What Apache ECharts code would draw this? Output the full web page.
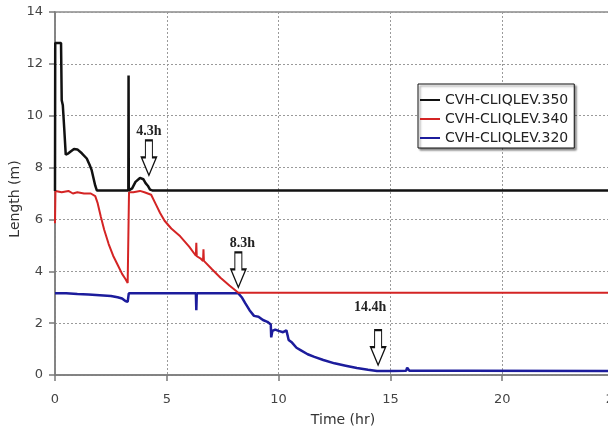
<!DOCTYPE html>
<html>
<head>
<meta charset="utf-8">
<script src="https://cdn.jsdelivr.net/npm/echarts@6/dist/echarts.min.js"></script>
<style>html,body{margin:0;padding:0;background:#fff;}#c{width:608px;height:431px;}</style>
</head>
<body>
<div id="c"></div>
<script>
// Series names
const seriesNames = ['CVH-CLIQLEV.350', 'CVH-CLIQLEV.340', 'CVH-CLIQLEV.320'];

// Black series [time(hr), length(m)]
const black350 = [[0,7.1],[0.01,12.8],[0.27,12.8],[0.3,10.6],[0.35,10.4],[0.42,9.4],[0.48,8.5],[0.6,8.55],[0.7,8.62],[0.85,8.72],[1.0,8.7],[1.2,8.55],[1.42,8.35],[1.55,8.1],[1.64,7.9],[1.72,7.6],[1.8,7.3],[1.87,7.12],[3.28,7.12],[3.29,11.55],[3.3,7.12],[3.45,7.2],[3.6,7.45],[3.8,7.6],[3.95,7.55],[4.05,7.4],[4.15,7.3],[4.25,7.15],[4.35,7.12],[25,7.12]];

// Red series
const red340 = [[0,5.85],[0.02,7.1],[0.3,7.05],[0.6,7.1],[0.8,7.0],[1.0,7.05],[1.3,7.0],[1.6,7.0],[1.8,6.9],[1.9,6.65],[2.05,6.1],[2.2,5.6],[2.4,5.05],[2.6,4.6],[2.8,4.25],[3.0,3.9],[3.15,3.7],[3.25,3.55],[3.3,3.55],[3.31,7.05],[3.5,7.05],[3.8,7.1],[4.0,7.05],[4.3,6.95],[4.5,6.6],[4.7,6.25],[4.9,5.95],[5.2,5.65],[5.6,5.35],[6.0,4.95],[6.3,4.6],[6.32,5.1],[6.34,4.58],[6.5,4.5],[6.62,4.4],[6.64,4.85],[6.66,4.4],[7.0,4.1],[7.4,3.75],[7.8,3.45],[8.2,3.17],[25,3.17]];

// Blue series
const blue320 = [[0,3.15],[0.5,3.15],[1.0,3.12],[1.5,3.1],[2.0,3.08],[2.5,3.05],[2.8,3.0],[3.0,2.95],[3.15,2.85],[3.25,2.82],[3.3,3.15],[5,3.15],[6.3,3.15],[6.32,2.5],[6.34,3.15],[8.2,3.15],[8.35,3.0],[8.5,2.78],[8.7,2.5],[8.9,2.28],[9.1,2.25],[9.3,2.12],[9.5,2.05],[9.65,1.95],[9.67,1.45],[9.72,1.7],[9.85,1.75],[10.0,1.7],[10.2,1.65],[10.35,1.72],[10.45,1.35],[10.6,1.25],[10.8,1.05],[11.0,0.95],[11.3,0.8],[11.6,0.7],[12.0,0.58],[12.5,0.45],[13.0,0.36],[13.5,0.27],[14.0,0.2],[14.4,0.15],[15.0,0.15],[15.7,0.16],[15.75,0.28],[15.85,0.16],[18.3,0.16],[18.35,0.2],[18.4,0.16],[25,0.15]];

// Annotation arrows: tip positions and labels
const arrowT = [4.2, 8.2, 14.45];
const arrowY = [7.7, 3.38, 0.38];
const arrowLabels = ['4.3h', '8.3h', '14.4h'];
const arrowLabelOffset = [[0, 2], [4, 2], [-8, -12]];

const arrowPath = 'path://M4,0 L11,0 L11,17 L15,17 L7.5,35 L0,17 L4,17 Z';

const chart = echarts.init(document.getElementById('c'));
const markData = arrowT.map((t, i) => ({
  coord: [t, arrowY[i]],
  label: { offset: arrowLabelOffset[i], formatter: arrowLabels[i] }
}));

chart.setOption({
  animation: false,
  grid: { left: 55, top: 12, right: -6, bottom: 56, containLabel: false, outerBoundsMode: 'none', show: true, borderColor: '#8a8a8a', borderWidth: 1.5, backgroundColor: 'transparent' },
  legend: {
    data: seriesNames,
    orient: 'vertical', left: 418, top: 84,
    padding: [9, 6, 3, 2], itemGap: 5, itemWidth: 20, itemHeight: 2,
    icon: 'rect',
    backgroundColor: '#fff', borderColor: '#111', borderWidth: 1,
    shadowColor: 'rgba(0,0,0,0.45)', shadowBlur: 2, shadowOffsetX: 2, shadowOffsetY: 2,
    textStyle: { fontFamily: 'DejaVu Sans', fontSize: 14, lineHeight: 14, color: '#222' }
  },
  xAxis: {
    type: 'value', min: 0, max: 25, interval: 5,
    name: 'Time (hr)', nameLocation: 'middle', nameGap: 38, nameMoveOverlap: false,
    nameTextStyle: { fontFamily: 'DejaVu Sans', fontSize: 14, color: '#333', padding: [0, 0, 0, 17] },
    axisLine: { lineStyle: { color: '#7a7a7a', width: 1.5 } },
    axisTick: { show: true, length: 6, lineStyle: { color: '#7a7a7a', width: 1.5 } },
    axisLabel: { margin: 18, fontFamily: 'DejaVu Sans', fontSize: 13, color: '#444', showMaxLabel: true },
    splitLine: { show: true, lineStyle: { type: [2, 2], color: '#9a9a9a', width: 1 } }
  },
  yAxis: {
    type: 'value', min: 0, max: 14, interval: 2,
    name: 'Length (m)', nameLocation: 'middle', nameGap: 33, nameRotate: 90, nameMoveOverlap: false,
    nameTextStyle: { fontFamily: 'DejaVu Sans', fontSize: 14, color: '#333', padding: [0, 11, 0, 0] },
    axisLine: { show: true, lineStyle: { color: '#7a7a7a', width: 1.5 } },
    axisTick: { show: true, length: 6, lineStyle: { color: '#7a7a7a', width: 1.5 } },
    axisLabel: { margin: 12, fontFamily: 'DejaVu Sans', fontSize: 13, color: '#444' },
    splitLine: { show: true, lineStyle: { type: [2, 2], color: '#9a9a9a', width: 1 } }
  },
  series: [
    {
      name: seriesNames[2], type: 'line', data: blue320, showSymbol: false, z: 2,
      lineStyle: { color: '#1c1c9c', width: 2.5 }, itemStyle: { color: '#1c1c9c' }
    },
    {
      name: seriesNames[1], type: 'line', data: red340, showSymbol: false, z: 3,
      lineStyle: { color: '#d42424', width: 2 }, itemStyle: { color: '#d42424' }
    },
    {
      name: seriesNames[0], type: 'line', data: black350, showSymbol: false, z: 4,
      lineStyle: { color: '#111', width: 2.5 }, itemStyle: { color: '#111' },
      markPoint: {
        symbol: arrowPath, symbolSize: [15, 35], symbolOffset: [0, '-50%'],
        itemStyle: { color: '#fff', borderColor: '#111', borderWidth: 1.5 },
        label: { show: true, position: 'top', distance: 3, fontFamily: 'Liberation Serif', fontWeight: 'bold', fontSize: 14, color: '#222' },
        data: markData
      }
    }
  ]
});
</script>
</body>
</html>
